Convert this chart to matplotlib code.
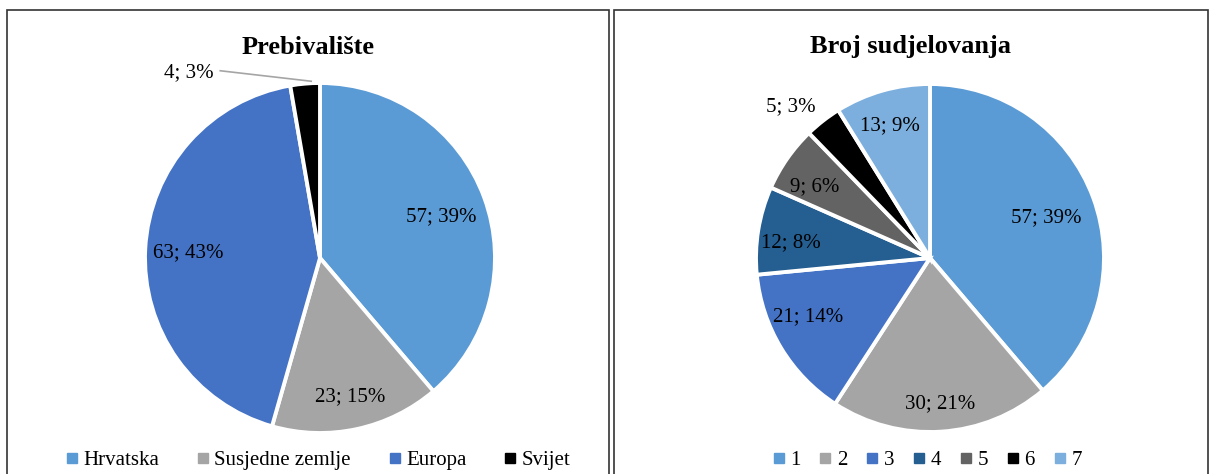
import matplotlib.pyplot as plt
from matplotlib.patches import Rectangle
from matplotlib.lines import Line2D

plt.rcParams['font.family'] = ['Liberation Serif', 'DejaVu Serif']

# Prebivalište
res_labels = ['Hrvatska', 'Susjedne zemlje', 'Europa', 'Svijet']
res_values = [57, 23, 63, 4]
res_pct = [39, 15, 43, 3]
res_colors = ['#5B9BD5', '#A5A5A5', '#4472C4', '#000000']
res_text_pos = [(0.69, 0.235), (0.17, -0.79), (-0.75, 0.03), (-0.75, 1.06)]

# Broj sudjelovanja
part_labels = ['1', '2', '3', '4', '5', '6', '7']
part_values = [57, 30, 21, 12, 9, 5, 13]
part_pct = [39, 21, 14, 8, 6, 3, 9]
part_colors = ['#5B9BD5', '#A5A5A5', '#4472C4', '#255E91', '#636363', '#000000', '#7CAFDD']
part_text_pos = [(0.67, 0.23), (0.06, -0.84), (-0.70, -0.34), (-0.80, 0.09),
                 (-0.66, 0.41), (-0.80, 0.87), (-0.23, 0.76)]

W, H = 1211, 474
fig = plt.figure(figsize=(W / 100, H / 100), dpi=100)


def pie_axes(cx, cy, r):
    return fig.add_axes([(cx - r) / W, (H - cy - r) / H, 2 * r / W, 2 * r / H])


def draw_pie(ax, values, pct, colors, text_pos):
    ax.pie(values, colors=colors, startangle=90, counterclock=False,
           wedgeprops=dict(edgecolor='white', linewidth=2.8))
    ax.set_xlim(-1, 1)
    ax.set_ylim(-1, 1)
    ax.axis('off')
    for v, p, (x, y) in zip(values, pct, text_pos):
        ax.text(x, y, f'{v}; {p}%', ha='center', va='center', fontsize=15,
                clip_on=False)


# panel frames
for x0, x1 in [(7, 609), (614, 1208)]:
    fig.patches.append(Rectangle((x0 / W, -0.05), (x1 - x0) / W, (H - 10) / H + 0.05,
                                 transform=fig.transFigure, fill=False,
                                 edgecolor='#333333', linewidth=1.2))

ax1 = pie_axes(320, 258, 175)
draw_pie(ax1, res_values, res_pct, res_colors, res_text_pos)
ax1.plot([-0.57, -0.05], [1.07, 1.01], color='#A5A5A5', lw=1.2, clip_on=False)

ax2 = pie_axes(930, 258, 174)
draw_pie(ax2, part_values, part_pct, part_colors, part_text_pos)

fig.text(308 / W, 1 - 47 / H, 'Prebivalište', ha='center', va='center',
         fontsize=19, fontweight='bold')
fig.text(911 / W, 1 - 47 / H, 'Broj sudjelovanja', ha='center', va='center',
         fontsize=19, fontweight='bold')


def legend(labels, colors, cx, spacing):
    handles = [Line2D([], [], marker='s', ls='', color=c, markersize=6.5) for c in colors]
    fig.legend(handles, labels, loc='center', bbox_to_anchor=(cx / W, 1 - 460 / H),
               ncol=len(labels), frameon=False, fontsize=15, handletextpad=0.05,
               columnspacing=spacing, handlelength=1.0)


legend(res_labels, res_colors, 316, 1.6)
legend(part_labels, part_colors, 925, 0.7)

fig.savefig('out.png', dpi=100)
